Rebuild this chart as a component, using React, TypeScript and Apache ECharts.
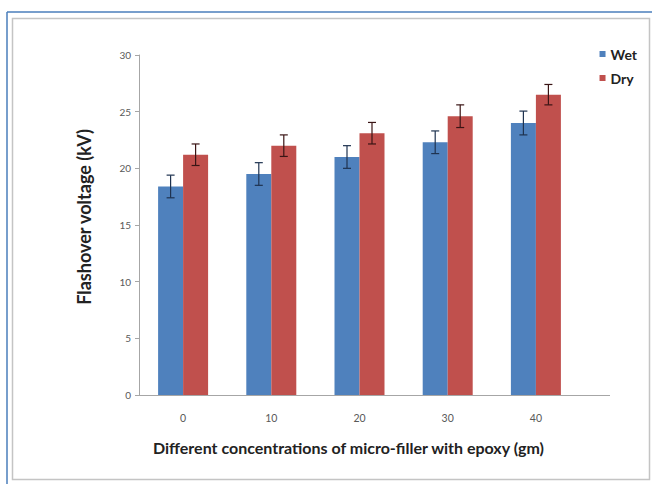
import React, { useEffect, useRef } from "react";
import * as echarts from "echarts";

const categories = ["0", "10", "20", "30", "40"];
const wetValues = [18.4, 19.5, 21.0, 22.3, 24.0];
const dryValues = [21.2, 22.0, 23.1, 24.6, 26.5];
const wetErrors = [1.0, 1.0, 1.0, 1.0, 1.05];
const dryErrors = [0.95, 0.95, 0.95, 1.0, 0.9];
const seriesNames = ["Wet", "Dry"];
const yTicks = { min: 0, max: 30, interval: 5 };

const FONT = "Lato, 'Open Sans', sans-serif";

export default function App() {
  const ref = useRef<HTMLDivElement>(null);
  useEffect(() => {
    document.body.style.margin = "0";
    const chart = echarts.init(ref.current!, null, { renderer: "svg" });
    const barW = 25;
    const errSeries = (name: string, vals: number[], errs: number[], offset: number, color: string) => ({
      type: "custom",
      name: name + " error",
      z: 10,
      silent: true,
      data: vals.map((v, i) => [i, v - errs[i], v + errs[i]]),
      renderItem: (params: any, api: any) => {
        const i = api.value(0);
        const lo = api.coord([i, api.value(1)]);
        const hi = api.coord([i, api.value(2)]);
        const x = lo[0] + offset;
        const cap = 4;
        const style = { stroke: color, lineWidth: 1.2 };
        return {
          type: "group",
          children: [
            { type: "line", shape: { x1: x, y1: lo[1], x2: x, y2: hi[1] }, style },
            { type: "line", shape: { x1: x - cap, y1: lo[1], x2: x + cap, y2: lo[1] }, style },
            { type: "line", shape: { x1: x - cap, y1: hi[1], x2: x + cap, y2: hi[1] }, style },
          ],
        };
      },
    });
    chart.setOption({
      animation: false,
      backgroundColor: "#ffffff",
      textStyle: { fontFamily: FONT },
      graphic: [
        { type: "line", shape: { x1: 7, y1: 12, x2: 652, y2: 12 }, style: { stroke: "#4a7ebb", lineWidth: 1.5 } },
        { type: "line", shape: { x1: 7, y1: 12, x2: 7, y2: 484 }, style: { stroke: "#4a7ebb", lineWidth: 1.5 } },
        { type: "rect", shape: { x: 12.5, y: 18.5, width: 637, height: 461 }, style: { fill: "none", stroke: "#c4c4c4", lineWidth: 1.5 } },
        { type: "line", shape: { x1: 580, y1: 395.5, x2: 610, y2: 395.5 }, style: { stroke: "#a6a6a6", lineWidth: 1 } },
      ],
      legend: {
        orient: "vertical",
        right: 10,
        top: 42,
        itemWidth: 6,
        itemHeight: 6,
        itemGap: 10,
        icon: "rect",
        textStyle: { fontFamily: FONT, fontSize: 14, fontWeight: "bold", color: "#222" },
        data: seriesNames,
      },
      grid: { left: 139, right: 72, top: 55, bottom: 89 },
      xAxis: {
        type: "category",
        data: categories,
        axisLine: { lineStyle: { color: "#a6a6a6" } },
        axisTick: { show: false },
        axisLabel: { color: "#595959", fontSize: 10.5, margin: 17, fontFamily: FONT },
        name: "Different concentrations of micro-filler with epoxy (gm)",
        nameLocation: "middle",
        nameGap: 44,
        nameTextStyle: { fontSize: 16, fontWeight: "bold", color: "#222", fontFamily: FONT, padding: [0, 22, 0, 0] },
      },
      yAxis: {
        type: "value",
        min: yTicks.min,
        max: yTicks.max,
        interval: yTicks.interval,
        splitLine: { show: false },
        axisLine: { show: true, lineStyle: { color: "#a6a6a6" } },
        axisTick: { show: true, length: 4, lineStyle: { color: "#a6a6a6" } },
        axisLabel: { color: "#595959", fontSize: 10, margin: 8, fontFamily: FONT },
        name: "Flashover voltage (kV)",
        nameLocation: "middle",
        nameGap: 46,
        nameTextStyle: { fontSize: 18, fontWeight: "bold", color: "#222", fontFamily: FONT, padding: [0, 0, 0, 16] },
      },
      series: [
        { name: seriesNames[0], type: "bar", data: wetValues, barWidth: barW, barGap: "0%", itemStyle: { color: "#4f81bd" } },
        { name: seriesNames[1], type: "bar", data: dryValues, barWidth: barW, barGap: "0%", itemStyle: { color: "#c0504d" } },
        errSeries(seriesNames[0], wetValues, wetErrors, -barW / 2, "#1f3350"),
        errSeries(seriesNames[1], dryValues, dryErrors, barW / 2, "#3a1515"),
      ],
    });
    return () => chart.dispose();
  }, []);
  return <div ref={ref} style={{ width: 652, height: 484 }} />;
}
